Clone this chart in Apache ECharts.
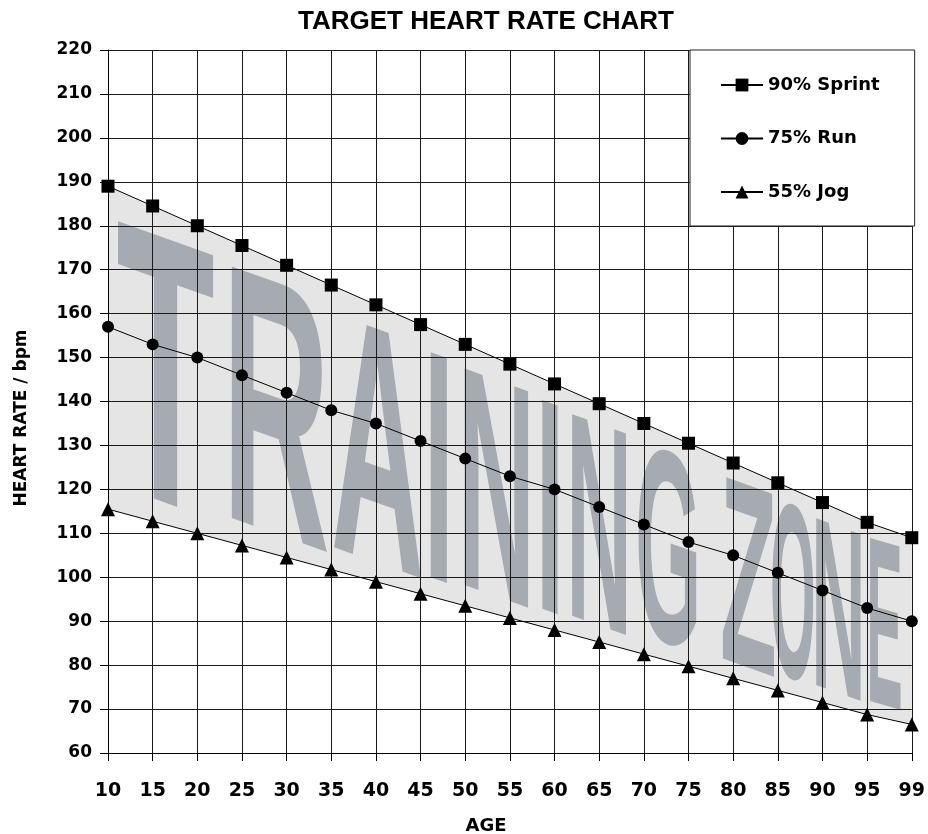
<!DOCTYPE html>
<html>
<head>
<meta charset="utf-8">
<script src="https://cdn.jsdelivr.net/npm/echarts@6/dist/echarts.min.js"></script>
<style>html,body{margin:0;padding:0;background:#fff;}#c{width:928px;height:834px;}</style>
</head>
<body>
<div id="c"></div>
<script>
// ---- data ----
var ages = ['10','15','20','25','30','35','40','45','50','55','60','65','70','75','80','85','90','95','99'];
var sprint = [189,184.5,180,175.5,171,166.5,162,157.5,153,148.5,144,139.5,135,130.5,126,121.5,117,112.5,109];
var run = [157,153,150,146,142,138,135,131,127,123,120,116,112,108,105,101,97,93,90];
var jog = [115.5,112.75,110,107.25,104.5,101.75,99,96.25,93.5,90.75,88,85.25,82.5,79.75,77,74.25,71.5,68.75,66.5];
var seriesNames = ['90% Sprint','75% Run','55% Jog'];
var yTicks = {min:60, max:220, step:10};

// ---- watermark layout (category-index units) ----
var watermark = [
  {ch:'T', from:0.22, to:2.39},
  {ch:'R', from:2.75, to:4.93},
  {ch:'A', from:5.05, to:7.02},
  {ch:'I', from:7.21, to:7.61},
  {ch:'N', from:7.97, to:9.42},
  {ch:'I', from:9.71, to:10.09},
  {ch:'N', from:10.38, to:11.61},
  {ch:'G', from:11.88, to:13.18},
  {ch:'Z', from:13.75, to:14.93},
  {ch:'O', from:14.88, to:15.8},
  {ch:'N', from:15.85, to:16.86},
  {ch:'E', from:17.06, to:17.75}
];
var WM_FONT = 'bold 100px "Liberation Sans"';
var WM_COLOR = '#a6abb1';
var BAND_COLOR = '#e5e5e5';
var INSET = 0.07;

var mctx = document.createElement('canvas').getContext('2d');
mctx.font = WM_FONT; mctx.textBaseline = 'middle'; mctx.textAlign = 'center';
function measure(ch){
  var m = mctx.measureText(ch);
  var l = -m.actualBoundingBoxLeft, r = m.actualBoundingBoxRight;
  var t = -m.actualBoundingBoxAscent, b = m.actualBoundingBoxDescent;
  return {w:r-l, h:b-t, cx:(l+r)/2, cy:(t+b)/2};
}
function seg(pts,t){ var i=Math.max(0,Math.min(Math.floor(t), pts.length-2)); return i; }
function lerp(pts,t){ var i=seg(pts,t), f=t-i; return [pts[i][0]+(pts[i+1][0]-pts[i][0])*f, pts[i][1]+(pts[i+1][1]-pts[i][1])*f]; }
function slope(pts,t){ var i=seg(pts,t); return (pts[i+1][1]-pts[i][1])/(pts[i+1][0]-pts[i][0]); }

var LBL_FONT = 'DejaVu Sans';

var chart = echarts.init(document.getElementById('c'), null, {renderer:'canvas'});
var option = {
  animation: false,
  backgroundColor: '#fff',
  grid: {left:108, right:14, top:50, bottom:81},
  xAxis: {
    type:'category', data: ages, boundaryGap:false, z:1,
    axisLine:{show:true, lineStyle:{color:'#000', width:1}},
    axisTick:{show:true, length:8, interval:0, lineStyle:{color:'#000', width:1}},
    axisLabel:{interval:0, margin:29, color:'#000', fontFamily:LBL_FONT, fontWeight:'bold', fontSize:19},
    splitLine:{show:true, interval:0, lineStyle:{color:'#1a1a1a', width:1}}
  },
  yAxis: {
    type:'value', min:yTicks.min, max:yTicks.max, interval:yTicks.step, z:1,
    axisLine:{show:true, lineStyle:{color:'#000', width:1}},
    axisTick:{show:true, length:8, lineStyle:{color:'#000', width:1}},
    axisLabel:{margin:16, color:'#000', fontFamily:LBL_FONT, fontWeight:'bold', fontSize:17},
    splitLine:{show:true, lineStyle:{color:'#1a1a1a', width:1}}
  },
  legend: {
    orient:'vertical', left:690, top:50, padding:[26,35,25,30],
    itemWidth:42, itemHeight:16, itemGap:35.5,
    backgroundColor:'#fff', borderColor:'#222', borderWidth:1,
    textStyle:{fontFamily:LBL_FONT, fontWeight:'bold', fontSize:18, color:'#000', lineHeight:18},
    lineStyle:{width:2},
    data: seriesNames
  },
  graphic: [
    {type:'text', x:486, y:22, z:10, style:{text:'TARGET HEART RATE CHART', font:'bold 26px "Liberation Sans"', fill:'#000', textFill:'#000', align:'center', textAlign:'center', verticalAlign:'middle', textVerticalAlign:'middle'}},
    {type:'text', x:486, y:826, z:10, style:{text:'AGE', font:'bold 18px "DejaVu Sans"', fill:'#000', textFill:'#000', align:'center', textAlign:'center', verticalAlign:'middle', textVerticalAlign:'middle'}},
    {type:'text', x:22, y:418, rotation:Math.PI/2, z:10, style:{text:'HEART RATE / bpm', font:'bold 17px "DejaVu Sans"', fill:'#000', textFill:'#000', align:'center', textAlign:'center', verticalAlign:'middle', textVerticalAlign:'middle'}}
  ],
  series: [
    {
      type:'custom', name:'band', z:0, silent:true, coordinateSystem:'cartesian2d',
      data:[[0, yTicks.min]],
      renderItem: function(params, api){
        if (params.dataIndex !== 0) return;
        var top = sprint.map(function(v,i){return api.coord([i,v]);});
        var bot = jog.map(function(v,i){return api.coord([i,v]);});
        var poly = top.concat(bot.slice().reverse());
        var children = [{type:'polygon', shape:{points:poly}, style:{fill:BAND_COLOR}}];
        watermark.forEach(function(L){
          var tc = (L.from+L.to)/2;
          var xl = lerp(top,L.from)[0], xr = lerp(top,L.to)[0], xc = lerp(top,tc)[0];
          var ys = lerp(top,tc)[1], yj = lerp(bot,tc)[1];
          var h = yj-ys, yt = ys+INSET*h, yb = yj-INSET*h;
          var s = (slope(top,tc)+slope(bot,tc))/2;
          var m = measure(L.ch);
          var sx = (xr-xl)/m.w, sy = (yb-yt)/m.h;
          var X = xc - sx*m.cx, Y = (yt+yb)/2 - s*sx*m.cx - sy*m.cy;
          children.push({type:'text', x:X, y:Y, scaleX:sx, scaleY:sy, skewY:-Math.atan(s),
            style:{text:L.ch, font:WM_FONT, fill:WM_COLOR, textFill:WM_COLOR, align:'center', textAlign:'center', verticalAlign:'middle', textVerticalAlign:'middle'}});
        });
        return {type:'group', children:children};
      }
    },
    {name:seriesNames[0], type:'line', data:sprint, symbol:'rect', symbolSize:13, clip:false, z:3,
      lineStyle:{color:'#000', width:1}, itemStyle:{color:'#000'}},
    {name:seriesNames[1], type:'line', data:run, symbol:'circle', symbolSize:12, clip:false, z:3,
      lineStyle:{color:'#000', width:1}, itemStyle:{color:'#000'}},
    {name:seriesNames[2], type:'line', data:jog, symbol:'triangle', symbolSize:14, clip:false, z:3,
      lineStyle:{color:'#000', width:1}, itemStyle:{color:'#000'}}
  ]
};
chart.setOption(option);
</script>
</body>
</html>
